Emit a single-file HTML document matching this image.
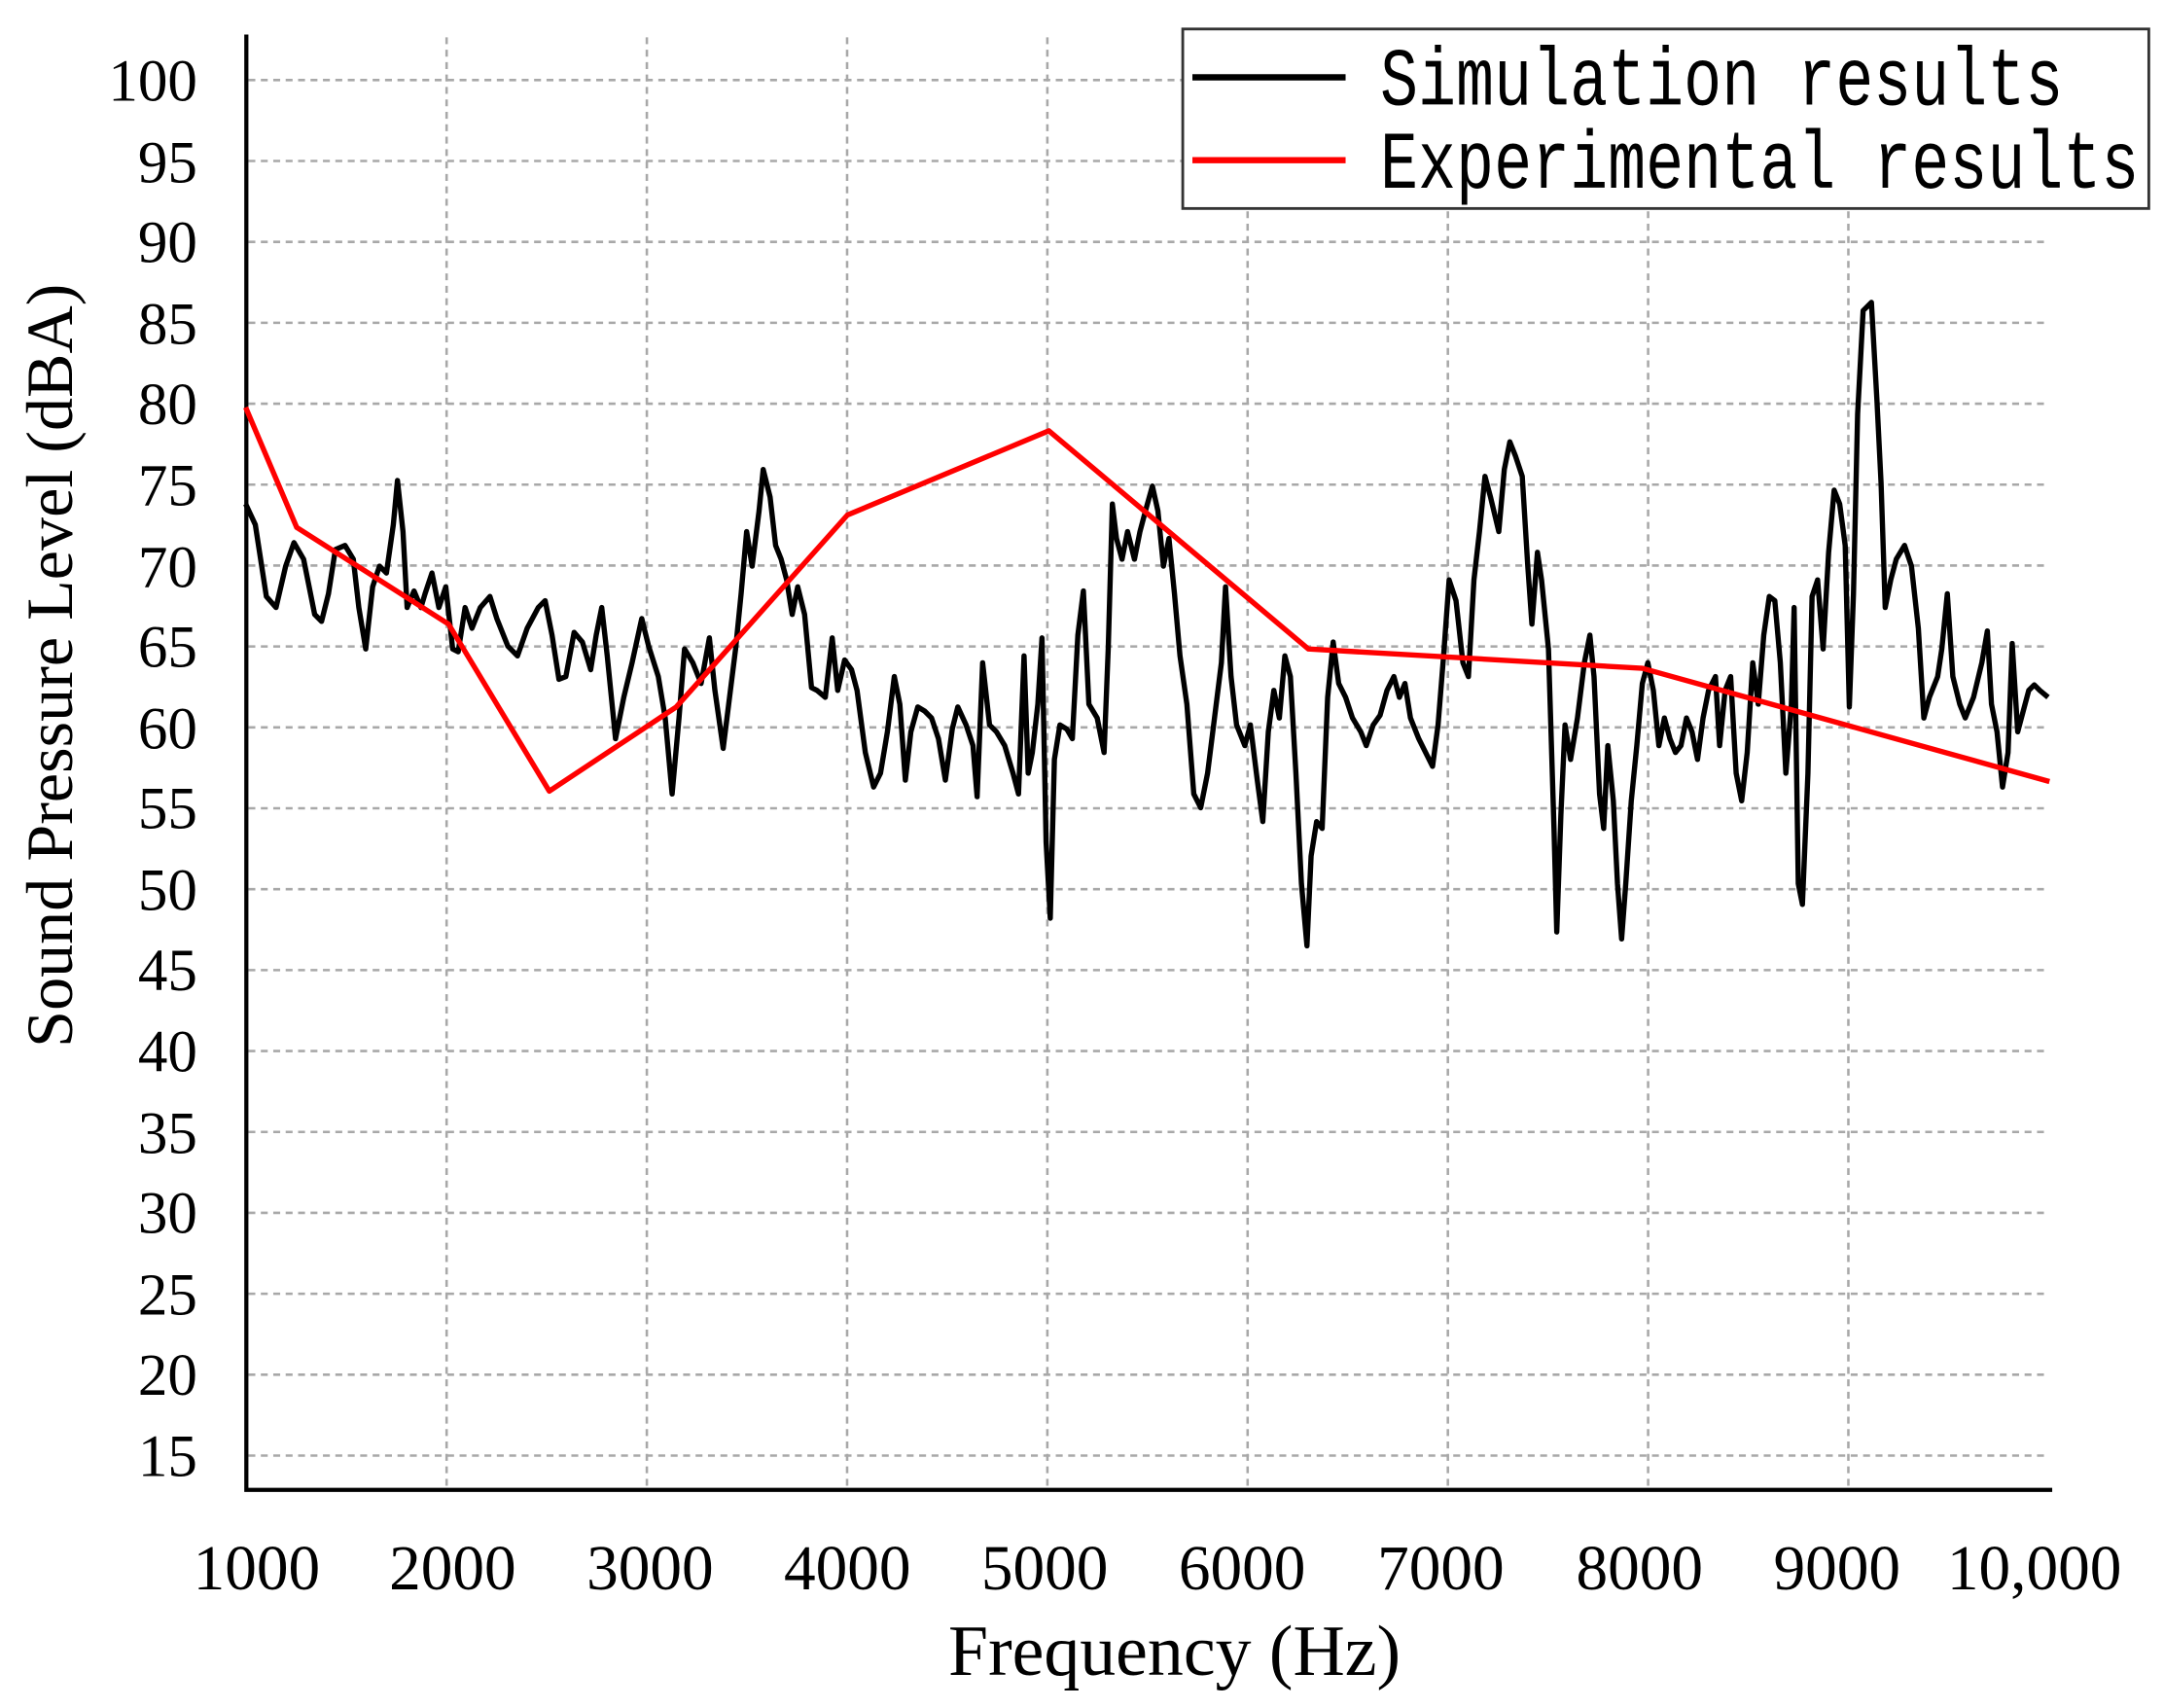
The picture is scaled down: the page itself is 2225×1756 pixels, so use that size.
<!DOCTYPE html>
<html><head><meta charset="utf-8"><style>html,body{margin:0;padding:0;background:#fff}svg{display:block}</style></head>
<body>
<svg xmlns="http://www.w3.org/2000/svg" width="2225" height="1756" viewBox="0 0 1568 1237" preserveAspectRatio="none">
<rect width="1568" height="1237" fill="#fff"/>
<g stroke="#a8a8a8" stroke-width="1.8" stroke-dasharray="5,4" fill="none">
<path d="M180 58H1485M180 116.6H1485M180 175.2H1485M180 233.8H1485M180 292.4H1485M180 351H1485M180 409.6H1485M180 468.2H1485M180 526.8H1485M180 585.4H1485M180 644H1485M180 702.6H1485M180 761.2H1485M180 819.8H1485M180 878.4H1485M180 937H1485M180 995.6H1485M180 1054.2H1485"/>
<path d="M323.6 27V1078M468.7 27V1078M613.8 27V1078M758.9 27V1078M904 27V1078M1049.1 27V1078M1194.2 27V1078M1339.3 27V1078"/>
</g>
<path d="M178.5 25V1079H1487" stroke="#000" stroke-width="3" fill="none"/>
<g font-family="Liberation Serif, serif" font-size="43" fill="#000" text-anchor="end">
<text x="143" y="73">100</text><text x="143" y="132">95</text><text x="143" y="190">90</text><text x="143" y="249">85</text><text x="143" y="307">80</text><text x="143" y="366">75</text><text x="143" y="425">70</text><text x="143" y="483">65</text><text x="143" y="542">60</text><text x="143" y="600">55</text><text x="143" y="659">50</text><text x="143" y="717">45</text><text x="143" y="776">40</text><text x="143" y="835">35</text><text x="143" y="893">30</text><text x="143" y="952">25</text><text x="143" y="1010">20</text><text x="143" y="1069">15</text>
</g>
<g font-family="Liberation Serif, serif" font-size="46" fill="#000" text-anchor="middle">
<text x="186" y="1151">1000</text><text x="328" y="1151">2000</text><text x="471" y="1151">3000</text><text x="614" y="1151">4000</text><text x="757" y="1151">5000</text><text x="900" y="1151">6000</text><text x="1044" y="1151">7000</text><text x="1188" y="1151">8000</text><text x="1331" y="1151">9000</text><text x="1474" y="1151">10,000</text>
</g>
<text x="851" y="1213" font-family="Liberation Serif, serif" font-size="52" text-anchor="middle">Frequency (Hz)</text>
<text transform="translate(52,482) rotate(-90)" font-family="Liberation Serif, serif" font-size="48" text-anchor="middle">Sound Pressure Level (dBA)</text>
<polyline fill="none" stroke="#000" stroke-width="3.8" stroke-linejoin="round" points="178,365 185,380 193,432 200,440 207,410 213,393 220,405 228,445 233,450 238,430 243,398 250,395 256,405 260,440 265,470 270,425 275,410 280,415 285,380 288,348 292,385 295,440 300,428 305,440 308,430 313,415 318,440 323,425 328,470 332,472 337,440 342,455 348,440 355,432 360,448 368,468 375,475 382,455 390,440 395,435 400,460 405,492 410,490 416,458 422,465 428,485 432,460 436,440 440,475 446,535 452,505 458,480 465,448 470,468 477,490 482,520 487,575 492,520 496,470 502,480 508,495 514,462 518,500 524,542 528,510 533,470 537,430 541,385 545,410 550,370 553,340 558,360 562,395 566,405 570,420 574,445 578,425 583,445 588,498 592,500 598,505 603,462 607,500 612,478 617,485 621,500 627,545 633,570 638,560 643,530 648,490 652,510 656,565 660,530 665,512 670,515 675,520 680,535 685,565 690,528 694,512 700,525 705,540 708,577 712,480 717,525 722,530 728,540 734,560 738,575 742,475 745,560 748,545 752,510 755,462 758,610 761,665 764,550 768,525 773,528 777,535 781,460 785,428 789,510 795,520 800,545 803,470 806,365 809,390 813,405 817,385 822,405 826,385 830,370 835,352 839,370 843,410 847,390 851,430 855,475 860,510 865,575 870,585 875,560 880,520 885,480 888,425 892,490 896,525 902,540 906,525 911,565 915,595 919,530 923,500 927,520 931,475 935,490 939,560 943,640 947,685 950,620 954,595 958,600 962,505 966,465 970,495 975,505 980,520 986,530 990,540 995,525 1000,518 1005,500 1010,490 1014,505 1018,495 1022,520 1028,535 1033,545 1038,555 1042,525 1046,475 1050,420 1055,435 1060,480 1064,490 1068,420 1072,385 1076,345 1080,360 1086,385 1090,340 1094,320 1098,330 1103,345 1107,410 1110,452 1114,400 1117,420 1122,470 1126,600 1128,675 1131,590 1134,525 1138,550 1143,520 1148,480 1152,460 1155,490 1159,575 1162,600 1165,540 1169,580 1172,640 1175,680 1178,640 1182,580 1186,540 1190,495 1194,480 1198,500 1202,540 1206,520 1210,535 1214,545 1218,540 1222,520 1226,530 1230,550 1234,520 1238,500 1243,490 1246,540 1250,500 1254,490 1258,560 1262,580 1266,545 1270,480 1274,510 1278,460 1282,432 1286,435 1290,480 1294,560 1298,510 1300,440 1303,640 1306,655 1310,560 1313,432 1317,420 1321,470 1325,400 1329,355 1333,365 1337,395 1340,512 1343,430 1346,300 1350,225 1356,219 1360,290 1363,350 1366,440 1370,420 1374,405 1380,395 1385,410 1390,455 1394,520 1398,505 1404,490 1407,470 1411,430 1415,490 1420,510 1424,520 1430,505 1436,480 1440,457 1443,510 1447,530 1451,570 1455,545 1458,466 1462,530 1466,515 1470,500 1474,496 1478,500 1484,505"/>
<polyline fill="none" stroke="#ff0000" stroke-width="3.8" stroke-linejoin="round" points="178,295 215,382 325,452 398,573 490,512 614,373 760,312 948,470 1190,484 1485,566"/>
<rect x="857" y="21" width="700" height="130" fill="#fff" stroke="#333" stroke-width="2"/>
<path d="M864 56H975" stroke="#000" stroke-width="4.5"/>
<path d="M864 116H975" stroke="#ff0000" stroke-width="4.5"/>
<g font-family="Liberation Mono, monospace" font-size="46" fill="#000">
<text x="1000" y="76" transform="translate(0,-23) scale(1,1.3)" textLength="495" lengthAdjust="spacingAndGlyphs">Simulation results</text>
<text x="1000" y="136" transform="translate(0,-41) scale(1,1.3)" textLength="550" lengthAdjust="spacingAndGlyphs">Experimental results</text>
</g>
</svg>
</body></html>
